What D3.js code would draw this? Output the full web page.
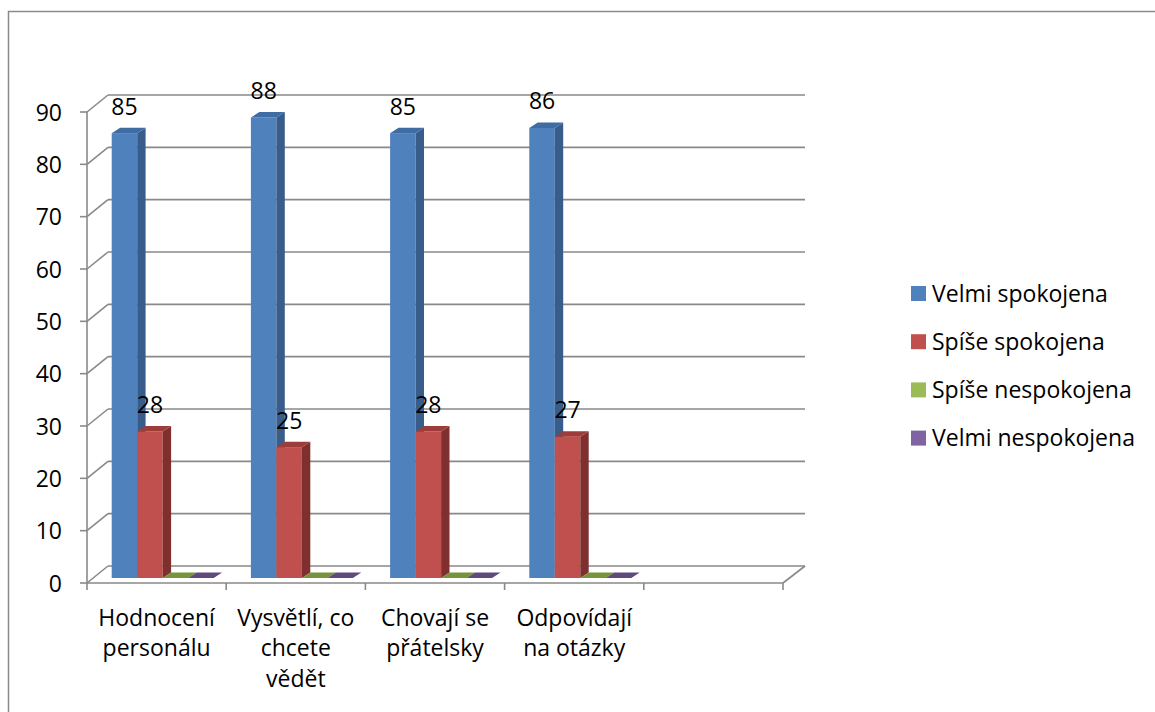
<!DOCTYPE html>
<html><head><meta charset="utf-8">
<script src="https://cdn.jsdelivr.net/npm/d3@7"></script>
<style>html,body{margin:0;padding:0;background:#fff;}svg{display:block;}</style>
</head><body>
<svg id="chart" width="1155" height="712"></svg>
<script>
// ---- data ----
const categories = ["Hodnocení personálu", "Vysvětlí, co chcete vědět", "Chovají se přátelsky", "Odpovídají na otázky", ""];
const categoryLines = [["Hodnocení", "personálu"], ["Vysvětlí, co", "chcete", "vědět"], ["Chovají se", "přátelsky"], ["Odpovídají", "na otázky"], []];
const seriesNames = ["Velmi spokojena", "Spíše spokojena", "Spíše nespokojena", "Velmi nespokojena"];
const velmiSpokojena = [85, 88, 85, 86];
const spiseSpokojena = [28, 25, 28, 27];
const spiseNespokojena = [0, 0, 0, 0];
const velmiNespokojena = [0, 0, 0, 0];
const yTicks = [0, 10, 20, 30, 40, 50, 60, 70, 80, 90];

const seriesValues = [velmiSpokojena, spiseSpokojena, spiseNespokojena, velmiNespokojena];
const colors = [
  {front: "#4F81BD", side: "#385D8A", top: "#3F6CA3"},
  {front: "#C0504D", side: "#7F302E", top: "#9E3C3A"},
  {front: "#9BBB59", side: "#6F8A3A", top: "#77933C"},
  {front: "#8064A2", side: "#5B477A", top: "#604A7D"}
];

const FONT = "'Open Sans', 'Noto Sans', sans-serif";
const FS = 23;
const svg = d3.select("#chart");

// chart border (top and left visible)
svg.append("path").attr("d", "M8.5,1200 V11.5 H1200")
  .attr("fill", "none").attr("stroke", "#8a8a8a").attr("stroke-width", 1.5);

// geometry
const x0 = 87, x1 = 783;
const wallDx = 21, wallDy = -17;
const y = d3.scaleLinear().domain([0, 90]).range([583, 112]);
const x = d3.scaleBand().domain(d3.range(categories.length)).range([x0, x1]).paddingInner(0).paddingOuter(0);
const gridColor = "#898989";

const g = svg.append("g");

// back wall gridlines + left wall diagonals
yTicks.forEach(v => {
  const yy = y(v);
  g.append("line").attr("x1", x0 + wallDx).attr("x2", x1 + wallDx + 1)
    .attr("y1", yy + wallDy).attr("y2", yy + wallDy)
    .attr("stroke", gridColor).attr("stroke-width", 1.6);
  g.append("line").attr("x1", x0).attr("y1", yy).attr("x2", x0 + wallDx).attr("y2", yy + wallDy)
    .attr("stroke", gridColor).attr("stroke-width", 1.6);
});
// floor right edge
g.append("line").attr("x1", x1).attr("y1", y(0)).attr("x2", x1 + wallDx + 1).attr("y2", y(0) + wallDy)
  .attr("stroke", gridColor).attr("stroke-width", 1.6);

// bars
const barDepthShiftY = -5;
const topDx = 8.4, topDy = -5.5;
const inner = d3.scaleBand().domain(d3.range(seriesNames.length)).range([24.7, 24.7 + 102]).padding(0);
const bw = inner.bandwidth();
const bars = svg.append("g");
for (let c = 0; c < 4; c++) {
  for (let s = 0; s < seriesValues.length; s++) {
    const v = seriesValues[s][c];
    const bx = x(c) + inner(s);
    const yb = y(0) + barDepthShiftY;
    const yt = y(v) + barDepthShiftY;
    const col = colors[s];
    if (v > 0) {
      bars.append("rect").attr("x", bx).attr("y", yt).attr("width", bw).attr("height", yb - yt).attr("fill", col.front);
      bars.append("path").attr("d", `M${bx + bw},${yt} L${bx + bw + topDx},${yt + topDy} L${bx + bw + topDx},${yb + topDy} L${bx + bw},${yb} Z`).attr("fill", col.side);
    }
    bars.append("path").attr("d", `M${bx},${yt} L${bx + bw},${yt} L${bx + bw + topDx},${yt + topDy} L${bx + topDx},${yt + topDy} Z`).attr("fill", col.top);
  }
}
// value labels
const labels = svg.append("g").attr("font-family", FONT).attr("font-size", FS).attr("fill", "#000").attr("text-anchor", "middle");
for (let c = 0; c < 4; c++) {
  for (let s = 0; s < seriesValues.length; s++) {
    const v = seriesValues[s][c];
    if (v > 0) {
      labels.append("text").attr("x", x(c) + inner(s) + bw / 2).attr("y", y(v) + barDepthShiftY - 18.5).text(v);
    }
  }
}

// front axes
const axis = svg.append("g");
axis.append("line").attr("x1", x0).attr("x2", x0).attr("y1", y(90)).attr("y2", y(0)).attr("stroke", gridColor).attr("stroke-width", 1.6);
axis.append("line").attr("x1", x0).attr("x2", x1).attr("y1", y(0)).attr("y2", y(0)).attr("stroke", gridColor).attr("stroke-width", 1.6);
yTicks.forEach(v => {
  axis.append("line").attr("x1", x0 - 7).attr("x2", x0).attr("y1", y(v)).attr("y2", y(v)).attr("stroke", gridColor).attr("stroke-width", 1.6);
  axis.append("text").attr("x", 62).attr("y", y(v) + 8.5).attr("text-anchor", "end")
    .attr("font-family", FONT).attr("font-size", FS).attr("fill", "#000").text(v);
});
const catTicks = d3.range(categories.length + 1).map(i => x0 + i * x.bandwidth());
catTicks.forEach(cx => {
  axis.append("line").attr("x1", cx).attr("x2", cx).attr("y1", y(0)).attr("y2", y(0) + 7).attr("stroke", gridColor).attr("stroke-width", 1.6);
});
categoryLines.forEach((lines, i) => {
  const t = axis.append("text").attr("text-anchor", "middle").attr("font-family", FONT).attr("font-size", FS).attr("fill", "#000");
  lines.forEach((ln, j) => {
    t.append("tspan").attr("x", x(i) + x.bandwidth() / 2).attr("y", 625.5 + j * 30.5).text(ln);
  });
});

// legend
const legend = svg.append("g").attr("font-family", FONT).attr("font-size", FS);
seriesNames.forEach((name, i) => {
  const ly = 286 + i * 48.2;
  legend.append("rect").attr("x", 911).attr("y", ly).attr("width", 15).attr("height", 15).attr("fill", colors[i].front);
  legend.append("text").attr("x", 932).attr("y", ly + 15.5).attr("fill", "#000").text(name);
});
</script>
</body></html>
